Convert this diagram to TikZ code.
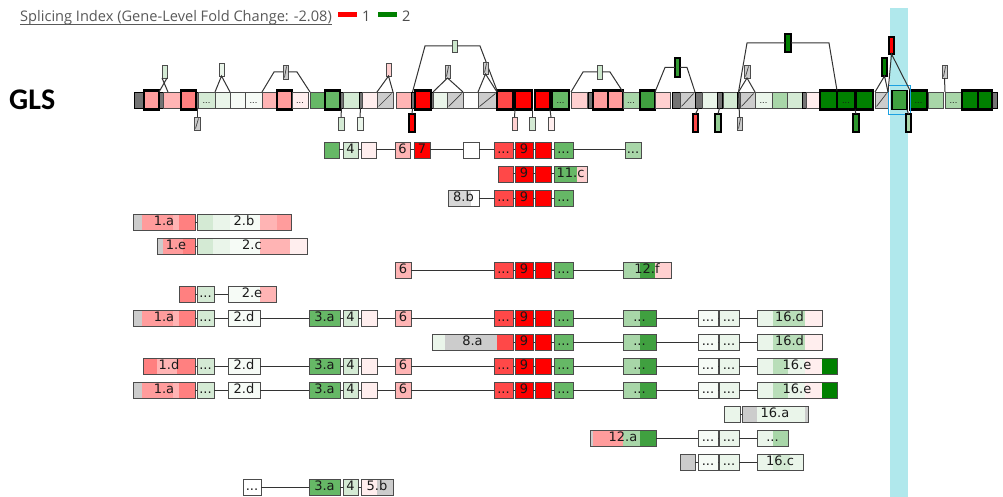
\documentclass[tikz,border=0pt]{standalone}
\usepackage{fontspec}
\newfontfamily\dv{DejaVu Sans}
\newfontfamily\os{Open Sans}
\newfontfamily\cb{Carlito}
\definecolor{R}{HTML}{FF0000}
\definecolor{R1}{HTML}{FF4848}
\definecolor{P1}{HTML}{FF8080}
\definecolor{P2}{HTML}{FF9C9C}
\definecolor{P3}{HTML}{FFB4B4}
\definecolor{P4}{HTML}{FFD0D0}
\definecolor{P5}{HTML}{FFEEEE}
\definecolor{G0}{HTML}{008000}
\definecolor{G1}{HTML}{40A040}
\definecolor{G2}{HTML}{66B866}
\definecolor{G3}{HTML}{A8D6A8}
\definecolor{G4}{HTML}{D4EAD4}
\definecolor{G5}{HTML}{EAF5EA}
\definecolor{G6}{HTML}{F6FBF6}
\definecolor{GR}{HTML}{CCCCCC}
\definecolor{HL}{HTML}{B0E8EC}
\definecolor{BL}{HTML}{1BA1E2}
\definecolor{TX}{HTML}{1A1A1A}
\tikzset{
  ex/.style={draw=black!70, line width=0.75pt, minimum height=16pt, inner sep=0pt, outer sep=0pt,
    text height=9.5pt, text depth=2.5pt, font=\dv\fontsize{13}{14}\selectfont, text=TX},
  thk/.style={draw=black, line width=2.2pt, minimum height=19pt},
  sthk/.style={draw=black, line width=1.6pt},
  jx/.style={draw=black, fill=black!55, line width=0.6pt},
  hatch/.style={fill=GR, path picture={\draw[black!75,line width=0.7pt]
     ([xshift=1.5pt,yshift=1.5pt]path picture bounding box.south west) --
     ([xshift=-1.5pt,yshift=-1.5pt]path picture bounding box.north east);}},
  con/.style={draw=black!80, line width=1pt},
  hdr/.style={font=\os\fontsize{14.6}{17}\selectfont, inner sep=0pt, anchor=base west},
}
\newcommand\ex[6]{\pgfmathsetmacro\exw{#3-#2}\pgfmathsetmacro\exc{(#2+#3)/2}%
  \node[ex,#5,minimum width=\exw pt] (#1) at (\exc,#4) {#6};}
\newcommand\bx[6]{\pgfmathsetmacro\exw{#3-#2}\pgfmathsetmacro\exh{#5-#4}%
  \pgfmathsetmacro\exc{(#2+#3)/2}\pgfmathsetmacro\exd{(#4+#5)/2}%
  \node[ex,#6,minimum width=\exw pt,minimum height=\exh pt] (#1) at (\exc,\exd) {};}
\newcommand\sg[4]{\fill[#4] (#1,#3-8) rectangle (#2,#3+8);}
\newcommand\dd{{\fontsize{8}{9}\selectfont...}}
\newcommand\onea[2]{\sg{133}{142}{#1}{GR}\sg{142}{173}{#1}{P2}\sg{173}{179}{#1}{P3}\sg{179}{195}{#1}{P1}%
  \ex{#2}{133}{195}{#1}{}{1.a}}
\newcommand\headpart[2]{%
  \ex{#2b}{197}{214}{#1}{fill=G4}{...}
  \ex{#2c}{228}{260}{#1}{fill=G6}{2.d}
  \ex{#2d}{309}{340}{#1}{fill=G2}{3.a}
  \ex{#2e}{343}{358}{#1}{fill=G4}{4}
  \ex{#2f}{361}{377}{#1}{fill=P5}{}
  \ex{#2g}{395}{411}{#1}{fill=P3}{6}
  \ex{#2h}{494}{513}{#1}{fill=R1}{...}
  \draw[con] (#2a)--(#2b) (#2b)--(#2c) (#2c)--(#2d) (#2d)--(#2e) (#2e)--(#2f) (#2f)--(#2g) (#2g)--(#2h);}
\newcommand\tailpart[2]{%
  \ex{#2i}{515}{533}{#1}{fill=R}{9}
  \ex{#2j}{535}{551}{#1}{fill=R}{}
  \ex{#2k}{554}{573}{#1}{fill=G2}{...}
  \sg{623}{640}{#1}{G3}\sg{640}{656}{#1}{G1}
  \ex{#2l}{623}{656}{#1}{}{...}
  \ex{#2m}{698}{718}{#1}{fill=G6}{...}
  \ex{#2n}{719}{739}{#1}{fill=G5}{...}
  \draw[con] (#2i)--(#2j) (#2j)--(#2k) (#2k)--(#2l) (#2l)--(#2m) (#2m)--(#2n);}
\newcommand\sixd[2]{\sg{757}{773}{#1}{G5}\sg{773}{805}{#1}{G3!80}\sg{805}{822}{#1}{P5}%
  \ex{#2}{757}{822}{#1}{}{16.d}}
\newcommand\sixe[2]{\sg{757}{773}{#1}{G5}\sg{773}{788}{#1}{G3!80}\sg{788}{805}{#1}{G5}\sg{805}{822}{#1}{P5}\sg{822}{837}{#1}{G0}%
  \ex{#2}{757}{837}{#1}{}{16.e}}
\begin{document}
\begin{tikzpicture}[x=1pt,y=-1pt]
\useasboundingbox (0,0) rectangle (1003,497);
\fill[white] (0,0) rectangle (1003,497);
% highlight band
\fill[HL] (890,8) rectangle (908,497);
% header
\node[hdr, text=black!65] (title) at (20,22) {Splicing Index (Gene-Level Fold Change: -2.08)};
\draw[black!65, line width=0.6pt] ([yshift=-2pt]title.base west) -- ([yshift=-2pt]title.base east);
\node[fill=R, minimum width=19pt, minimum height=5pt, inner sep=0pt] (leg1) at (347.5,15) {};
\node[hdr, text=black!70] (leg1t) at (362,22) {1};
\node[fill=G0, minimum width=19pt, minimum height=5pt, inner sep=0pt] (leg2) at (387.5,15) {};
\node[hdr, text=black!70] (leg2t) at (402,22) {2};
% gene name
\node[font=\cb\bfseries\fontsize{30}{32}\selectfont, anchor=west, inner sep=0pt] (gls) at (9,100) {GLS};
% ---------- main gene row ----------
\ex{m1}{134}{143}{100}{jx}{}
\ex{m2}{144}{159}{100}{thk,fill=P2}{}
\ex{m3}{159}{163}{100}{jx}{}
\ex{m4}{163}{180}{100}{fill=P3}{}
\ex{m5}{181}{196}{100}{thk,fill=P1}{}
\ex{m6}{196}{198}{100}{jx}{}
\ex{m7}{198}{215}{100}{fill=G4}{\dd}
\ex{m8}{215}{230}{100}{fill=G5}{}
\ex{m9}{230}{245}{100}{fill=G6}{}
\ex{m10}{245}{262}{100}{fill=G6}{\dd}
\ex{m11}{262}{277}{100}{fill=P3}{}
\ex{m12}{277}{292}{100}{thk,fill=P2}{}
\ex{m13}{292}{308}{100}{fill=P5}{\dd}
\ex{m14}{310}{325}{100}{fill=G2}{}
\ex{m15}{325}{340}{100}{thk,fill=G2}{}
\ex{m16}{340}{343}{100}{jx}{}
\ex{m17}{343}{359}{100}{fill=G4}{}
\ex{m18}{359}{362}{100}{jx}{}
\ex{m19}{362}{377}{100}{fill=P5}{}
\ex{m20}{377}{393}{100}{hatch}{}
\ex{m21}{396}{411}{100}{fill=P3}{}
\ex{m22}{411}{414}{100}{jx}{}
\ex{m23}{415}{431}{100}{thk,fill=R}{}
\ex{m24}{431}{433}{100}{jx}{}
\ex{m25}{433}{447}{100}{fill=G5}{}
\ex{m26}{447}{463}{100}{hatch}{}
\ex{m27}{463}{478}{100}{fill=white}{}
\ex{m28}{478}{497}{100}{hatch}{}
\ex{m29}{497}{513}{100}{thk,fill=R1}{}
\ex{m30}{515}{532}{100}{thk,fill=R}{}
\ex{m31}{535}{550}{100}{thk,fill=R}{}
\ex{m32}{552}{569}{100}{thk,fill=G2}{\dd}
\ex{m33}{571}{587}{100}{fill=P4}{}
\ex{m34}{588}{593}{100}{jx}{}
\ex{m35}{593}{608}{100}{thk,fill=P2}{}
\ex{m36}{608}{623}{100}{thk,fill=P2}{}
\ex{m37}{623}{639}{100}{fill=G3}{\dd}
\ex{m38}{640}{655}{100}{thk,fill=G1}{}
\ex{m39}{655}{670}{100}{fill=P4}{}
\ex{m40}{672}{680}{100}{jx}{}
\ex{m41}{680}{695}{100}{hatch}{}
\ex{m42}{695}{702}{100}{jx}{}
\ex{m43}{702}{717}{100}{fill=G5}{}
\ex{m44}{717}{722}{100}{jx}{}
\ex{m45}{723}{737}{100}{fill=G4}{}
\ex{m46}{737}{740}{100}{jx}{}
\ex{m47}{740}{755}{100}{hatch}{}
\ex{m48}{755}{772}{100}{fill=G5}{\dd}
\ex{m49}{772}{787}{100}{fill=G3}{}
\ex{m50}{787}{802}{100}{fill=G4}{}
\ex{m51}{802}{806}{100}{jx}{}
\ex{m52}{806}{820}{100}{fill=P5}{}
\ex{m53}{820}{837}{100}{thk,fill=G0}{}
\ex{m54}{837}{855}{100}{thk,fill=G0}{\dd}
\ex{m55}{856}{873}{100}{thk,fill=G0}{}
\ex{m56}{875}{888}{100}{hatch}{}
\ex{m57}{892}{907}{100}{draw=black,line width=1.2pt,minimum height=19pt,fill=G1}{}
\ex{m58}{910}{927}{100}{thk,fill=G0}{\dd}
\ex{m59}{928}{943}{100}{fill=G3}{}
\ex{m60}{945}{962}{100}{fill=G3}{\dd}
\ex{m61}{962}{978}{100}{thk,fill=G0}{}
\ex{m62}{978}{992}{100}{thk,fill=G0}{}
\ex{m63}{992}{997}{100}{jx}{}
\node[draw=BL, line width=1.6pt, minimum width=22pt, minimum height=29pt, inner sep=0pt] (sel) at (m57) {};
% ---------- events above ----------
\bx{u1}{162}{167}{65}{78}{fill=G4}
\coordinate (u1l) at (159,92); \coordinate (u1r) at (168,92);
\draw[con] (u1.south west) -- (u1r) (u1.south east) -- (u1l);
\bx{u2}{219}{224}{63}{76}{fill=G5}
\draw[con] (m8.north west) -- (u2.south) -- (m8.north east);
\bx{u3}{283}{288}{65}{79}{hatch}
\draw[con] (m11.north west) -- ([xshift=-9pt]u3.west) -- (u3.west);
\draw[con] (u3.east) -- ([xshift=9pt]u3.east) -- (m14.north west);
\bx{u4}{386}{391}{63}{76}{fill=P4}
\draw[con] (m20.north west) -- (u4.south) -- (m20.north east);
\bx{u5}{452}{457}{40}{52}{fill=G4!80!G3}
\draw[con] (m22.north) -- ([xshift=-27pt]u5.west) -- (u5.west);
\draw[con] (u5.east) -- ([xshift=23pt]u5.east) -- (m29.north west);
\bx{u6}{445}{450}{65}{78}{hatch}
\draw[con] (m25.north west) -- (u6.south) -- (m27.north west);
\bx{u7}{483}{488}{62}{74}{hatch}
\draw[con] (m28.north west) -- (u7.south) -- (m28.north east);
\bx{u8}{597}{602}{65}{79}{fill=G4!80!G3}
\draw[con] (m33.north west) -- ([xshift=-14pt]u8.west) -- (u8.west);
\draw[con] (u8.east) -- ([xshift=8pt]u8.east) -- (m37.north west);
\bx{u9}{675}{680}{58}{77}{sthk,fill=G1!80!G0}
\draw[con] (m39.north west) -- ([xshift=-10pt]u9.west) -- (u9.west);
\draw[con] (u9.east) -- ([xshift=7pt]u9.east) -- (m41.north east);
\bx{u10}{785}{791}{34}{52}{sthk,fill=G0}
\draw[con] (m46.north) -- ([xshift=-38pt]u10.west) -- (u10.west);
\draw[con] (u10.east) -- ([xshift=38pt]u10.east) -- (m54.north west);
\bx{u11}{744}{750}{65}{78}{hatch}
\draw[con] (m46.north) -- (u11.south) -- (m47.north east);
\bx{u12}{882}{887}{58}{76}{sthk,fill=G0}
\draw[con] (m56.north west) -- (u12.south) -- (m56.north east);
\bx{u13}{889}{894}{37}{54}{sthk,fill=R}
\draw[con] (m56.north east) -- (u13.south) -- (m58.north west);
\bx{u14}{942}{947}{65}{78}{hatch}
\draw[con] (m60.north west) -- (u14.south);
% ---------- events below ----------
\bx{lo1}{194}{200}{117}{130}{hatch}
\draw[con] (m6.south) -- (lo1.north);
\bx{lo2}{338}{344}{117}{130}{fill=G4}
\draw[con] (m16.south) -- (lo2.north);
\bx{lo3}{357}{363}{117}{130}{fill=G5}
\draw[con] (m18.south) -- (lo3.north);
\bx{lo4}{409}{415}{114}{132}{sthk,fill=R}
\draw[con] (m22.south) -- (lo4.north);
\bx{lo5}{512}{517}{117}{130}{fill=P4}
\draw[con] (m30.south west) -- (lo5.north);
\bx{lo6}{529}{535}{117}{130}{fill=G4}
\draw[con] (m30.south east) -- (lo6.north);
\bx{lo7}{548}{554}{117}{130}{fill=P5}
\draw[con] (m31.south east) -- (lo7.north);
\bx{lo8}{693}{698}{114}{132}{sthk,fill=R1}
\draw[con] (m42.south) -- (lo8.north);
\bx{lo9}{715}{721}{114}{132}{sthk,fill=G3!70!G2}
\draw[con] (m44.south) -- (lo9.north);
\bx{lo10}{737}{742}{117}{130}{hatch}
\draw[con] (m46.north) -- (lo10.north);
\bx{lo11}{853}{859}{114}{132}{sthk,fill=G1!70!G0}
\draw[con] (m54.south east) -- (lo11.north);
\bx{lo12}{906}{911}{114}{132}{sthk,fill=G3}
\draw[con] (m57.south east) -- (lo12.north);
% ---------- transcripts ----------
% row 1
\ex{a1}{324}{339}{150}{fill=G2}{}
\ex{a2}{343}{358}{150}{fill=G4}{4}
\ex{a3}{361}{376}{150}{fill=P5}{}
\ex{a4}{395}{410}{150}{fill=P3}{6}
\ex{a5}{414}{430}{150}{fill=R}{7}
\ex{a6}{463}{479}{150}{fill=white}{}
\ex{a7}{494}{513}{150}{fill=R1}{...}
\ex{a8}{515}{533}{150}{fill=R}{9}
\ex{a9}{535}{551}{150}{fill=R}{}
\ex{a10}{554}{573}{150}{fill=G2}{...}
\ex{a11}{625}{641}{150}{fill=G3}{...}
\draw[con] (a1)--(a2) (a2)--(a3) (a3)--(a4) (a4)--(a5) (a5)--(a6) (a6)--(a7) (a7)--(a8) (a8)--(a9) (a9)--(a10) (a10)--(a11);
% row 2
\ex{b1}{498}{513}{174}{fill=R1}{}
\ex{b2}{515}{533}{174}{fill=R}{9}
\ex{b3}{535}{551}{174}{fill=R}{}
\sg{554}{577}{174}{G2}\sg{577}{587}{174}{P4}
\ex{b4}{554}{587}{174}{}{11.c}
\draw[con] (b1)--(b2) (b2)--(b3) (b3)--(b4);
% row 3
\sg{448}{471}{198}{GR!80}\sg{471}{479}{198}{white}
\ex{c1}{448}{479}{198}{}{8.b}
\ex{c2}{494}{513}{198}{fill=R1}{...}
\ex{c3}{515}{533}{198}{fill=R}{9}
\ex{c4}{535}{551}{198}{fill=R}{}
\ex{c5}{554}{573}{198}{fill=G2}{...}
\draw[con] (c1)--(c2) (c2)--(c3) (c3)--(c4) (c4)--(c5);
% row 4
\onea{222}{r4a}
\sg{197}{213}{222}{G4}\sg{213}{230}{222}{G5}\sg{230}{260}{222}{G6}\sg{260}{277}{222}{P3}\sg{277}{291}{222}{P2}
\ex{r4b}{197}{291}{222}{}{2.b}
\draw[con] (r4a)--(r4b);
% row 5
\sg{157}{163}{246}{GR}\sg{163}{183}{246}{P2}\sg{183}{195}{246}{P1}
\ex{r5a}{157}{195}{246}{}{1.e}
\sg{197}{213}{246}{G4}\sg{213}{230}{246}{G5}\sg{230}{260}{246}{G6}\sg{260}{290}{246}{P3}\sg{290}{307}{246}{P5}
\ex{r5b}{197}{307}{246}{}{2.c}
\draw[con] (r5a)--(r5b);
% row 6
\ex{r6a}{395}{411}{270}{fill=P3}{6}
\ex{r6h}{494}{513}{270}{fill=R1}{...}
\ex{r6i}{515}{533}{270}{fill=R}{9}
\ex{r6j}{535}{551}{270}{fill=R}{}
\ex{r6k}{554}{573}{270}{fill=G2}{...}
\sg{623}{640}{270}{G3}\sg{640}{655}{270}{G1}\sg{655}{671}{270}{P4}
\ex{r6l}{623}{671}{270}{}{12.f}
\draw[con] (r6a)--(r6h) (r6h)--(r6i) (r6i)--(r6j) (r6j)--(r6k) (r6k)--(r6l);
% row 7
\ex{r7a}{179}{195}{294}{fill=P1}{}
\ex{r7b}{197}{214}{294}{fill=G4}{...}
\sg{228}{260}{294}{G6}\sg{260}{276}{294}{P3}
\ex{r7c}{228}{276}{294}{}{2.e}
\draw[con] (r7a)--(r7b) (r7b)--(r7c);
% row 8
\onea{318}{r8a}
\headpart{318}{r8}
\tailpart{318}{r8}
\sixd{318}{r8o}
\draw[con] (r8h)--(r8i) (r8n)--(r8o);
% row 9
\sg{432}{445}{342}{G5}\sg{445}{497}{342}{GR}\sg{497}{513}{342}{R1}
\ex{r9a}{432}{513}{342}{}{8.a}
\tailpart{342}{r9}
\sixd{342}{r9o}
\draw[con] (r9a)--(r9i) (r9n)--(r9o);
% row 10
\sg{143}{157}{366}{P1}\sg{157}{177}{366}{P3}\sg{177}{195}{366}{P1}
\ex{r10a}{143}{195}{366}{}{1.d}
\headpart{366}{r10}
\tailpart{366}{r10}
\sixe{366}{r10o}
\draw[con] (r10h)--(r10i) (r10n)--(r10o);
% row 11
\onea{390}{r11a}
\headpart{390}{r11}
\tailpart{390}{r11}
\sixe{390}{r11o}
\draw[con] (r11h)--(r11i) (r11n)--(r11o);
% row 12
\ex{r12a}{724}{740}{414}{fill=G5}{}
\sg{742}{757}{414}{GR}\sg{757}{805}{414}{G5}\sg{805}{808}{414}{GR}
\ex{r12b}{742}{808}{414}{}{16.a}
\draw[con] (r12a)--(r12b);
% row 13
\sg{590}{593}{438}{GR}\sg{593}{623}{438}{P2}\sg{623}{640}{438}{G3}\sg{640}{656}{438}{G1}
\ex{r13a}{590}{656}{438}{}{12.a}
\ex{r13b}{698}{718}{438}{fill=G6}{...}
\ex{r13c}{719}{739}{438}{fill=G5}{...}
\sg{757}{773}{438}{G5}\sg{773}{788}{438}{G3}
\ex{r13d}{757}{788}{438}{}{...}
\draw[con] (r13a)--(r13b) (r13b)--(r13c) (r13c)--(r13d);
% row 14
\ex{r14a}{680}{695}{462}{fill=GR}{}
\ex{r14b}{698}{718}{462}{fill=G6}{...}
\ex{r14c}{719}{739}{462}{fill=G5}{...}
\sg{757}{773}{462}{G5}\sg{773}{790}{462}{G4}\sg{790}{803}{462}{G5}
\ex{r14d}{757}{803}{462}{}{16.c}
\draw[con] (r14a)--(r14b) (r14b)--(r14c) (r14c)--(r14d);
% row 15
\ex{r15a}{243}{261}{487}{fill=white}{...}
\ex{r15b}{309}{340}{487}{fill=G2}{3.a}
\ex{r15c}{343}{358}{487}{fill=G4}{4}
\sg{361}{377}{487}{P5}\sg{377}{393}{487}{GR}
\ex{r15d}{361}{393}{487}{}{5.b}
\draw[con] (r15a)--(r15b) (r15b)--(r15c) (r15c)--(r15d);
\end{tikzpicture}
\end{document}
